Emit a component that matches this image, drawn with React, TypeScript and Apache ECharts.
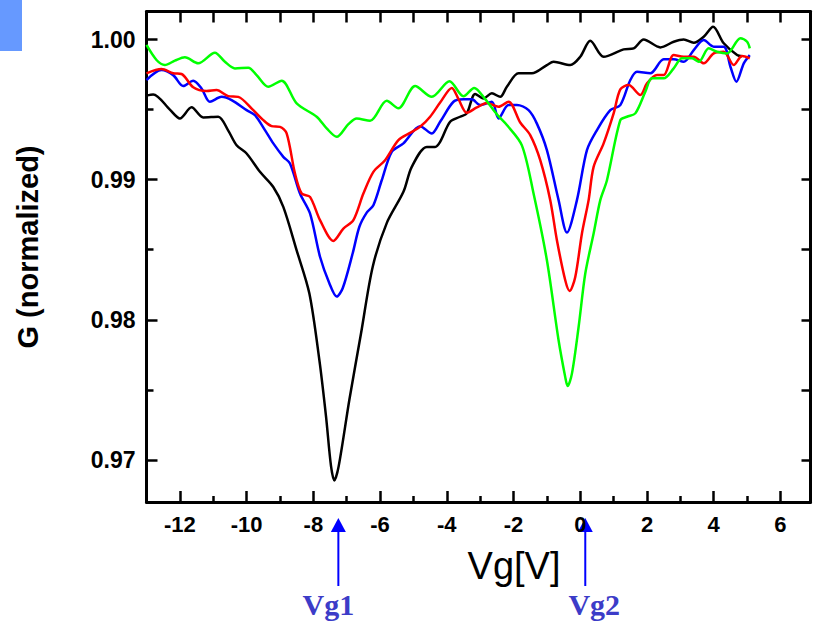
import React, { useEffect, useRef } from "react";
import * as echarts from "echarts";

const xMin = -13;
const xMax = 6.9;
const yMin = 0.967;
const yMax = 1.002;

const xTicksMajor = [-12, -10, -8, -6, -4, -2, 0, 2, 4, 6];
const xTicksMinor = [-11, -9, -7, -5, -3, -1, 1, 3, 5];
const xTicksTop = [-12, -11, -10, -9, -8, -7, -6, -5, -4, -3, -2, -1, 0, 1, 2, 3, 4, 5, 6];
const yTicksMajor = [0.97, 0.98, 0.99, 1.0];
const yTicksMinor = [0.975, 0.985, 0.995];
const yTicksRight = [0.97, 0.975, 0.98, 0.985, 0.99, 0.995, 1.0];

const vg1Value = -7.25;
const vg2Value = 0.15;

const blackData = [
  [-13.0, 0.996], [-12.8, 0.99608], [-12.3, 0.995], [-12.0, 0.99437], [-11.65, 0.99516],
  [-11.3, 0.99444], [-10.85, 0.99449], [-10.55, 0.9935], [-10.3, 0.99246], [-10.0, 0.99187],
  [-9.6, 0.99056], [-9.2, 0.98948], [-8.9, 0.98806], [-8.5, 0.98496], [-8.12, 0.98189],
  [-7.82, 0.97714], [-7.62, 0.97311], [-7.47, 0.96956], [-7.37, 0.96854], [-7.24, 0.96956],
  [-6.92, 0.9743], [-6.57, 0.97904], [-6.22, 0.98379], [-5.8, 0.9869], [-5.3, 0.98913],
  [-5.05, 0.99091], [-4.6, 0.99234], [-4.35, 0.99234], [-4.2, 0.9927], [-3.9, 0.99413],
  [-3.6, 0.99449], [-3.4, 0.99473], [-3.15, 0.99612], [-2.9, 0.9958], [-2.65, 0.99616],
  [-2.4, 0.99591], [-2.2, 0.99663], [-1.85, 0.99759], [-1.45, 0.99759], [-1.0, 0.99818],
  [-0.8, 0.99841], [-0.3, 0.99818], [0.0, 0.99877], [0.3, 0.99991], [0.7, 0.99877],
  [1.3, 0.9993], [1.6, 0.99937], [1.9, 1.0], [2.4, 0.99944], [2.8, 0.99984],
  [3.1, 1.0], [3.4, 0.99977], [3.7, 1.0002], [3.98, 1.00091], [4.3, 0.99973],
  [4.7, 0.99889], [4.85, 0.9988],
];

const blueData = [
  [-13.0, 0.99711], [-12.55, 0.99782], [-12.2, 0.99746], [-11.9, 0.99668], [-11.6, 0.99706],
  [-11.35, 0.99651], [-11.1, 0.99556], [-10.75, 0.99591], [-10.45, 0.99568], [-10.0, 0.99496],
  [-9.75, 0.99461], [-9.45, 0.99354], [-9.2, 0.99259], [-8.9, 0.99163], [-8.7, 0.99116],
  [-8.4, 0.98901], [-8.1, 0.98759], [-7.8, 0.9845], [-7.52, 0.98261], [-7.3, 0.98166],
  [-7.12, 0.98225], [-6.82, 0.98475], [-6.62, 0.98664], [-6.4, 0.98765], [-6.2, 0.98818],
  [-5.95, 0.98996], [-5.65, 0.99199], [-5.3, 0.99259], [-4.8, 0.99382], [-4.45, 0.9933],
  [-4.2, 0.99413], [-3.8, 0.99556], [-3.5, 0.99573], [-3.25, 0.99573], [-3.0, 0.99532],
  [-2.65, 0.99556], [-2.45, 0.99437], [-2.15, 0.99532], [-1.9, 0.99532], [-1.55, 0.99496],
  [-1.3, 0.994], [-1.0, 0.99211], [-0.65, 0.98854], [-0.4, 0.98623], [-0.1, 0.98854],
  [0.2, 0.99211], [0.5, 0.99354], [0.9, 0.99496], [1.2, 0.99532], [1.5, 0.99711],
  [1.7, 0.9977], [2.1, 0.99759], [2.5, 0.99859], [2.8, 0.99859], [3.1, 0.99841],
  [3.4, 0.99925], [3.7, 0.99996], [4.0, 0.99949], [4.3, 0.99949], [4.5, 0.99806],
  [4.68, 0.99699], [4.9, 0.9983], [5.08, 0.99889],
];

const redData = [
  [-13.0, 0.99759], [-12.55, 0.99789], [-12.2, 0.99759], [-11.95, 0.99754], [-11.6, 0.99659],
  [-11.2, 0.99632], [-10.9, 0.99639], [-10.55, 0.99596], [-10.25, 0.99591], [-9.8, 0.99496],
  [-9.5, 0.99425], [-9.25, 0.99382], [-9.0, 0.99377], [-8.8, 0.9933], [-8.55, 0.99044],
  [-8.35, 0.98901], [-8.1, 0.98877], [-7.8, 0.98711], [-7.4, 0.98563], [-7.1, 0.98651],
  [-6.8, 0.98711], [-6.5, 0.98901], [-6.2, 0.99056], [-5.85, 0.99139], [-5.45, 0.99282],
  [-5.1, 0.99334], [-4.8, 0.99377], [-4.5, 0.99449], [-4.2, 0.9955], [-3.85, 0.99654],
  [-3.65, 0.99575], [-3.4, 0.99478], [-3.1, 0.99515], [-2.8, 0.99547], [-2.45, 0.9952],
  [-2.15, 0.99556], [-1.8, 0.99408], [-1.5, 0.99318], [-1.2, 0.99139], [-0.9, 0.98854],
  [-0.7, 0.98568], [-0.45, 0.98282], [-0.32, 0.98206], [-0.15, 0.98306], [0.05, 0.98616],
  [0.25, 0.98854], [0.4, 0.99091], [0.7, 0.99259], [1.0, 0.99473], [1.2, 0.99644],
  [1.45, 0.99675], [1.8, 0.99604], [2.0, 0.99687], [2.3, 0.99746], [2.5, 0.99746],
  [2.8, 0.99889], [3.1, 0.99877], [3.4, 0.99877], [3.7, 0.9983], [4.0, 0.99901],
  [4.3, 0.99913], [4.6, 0.99818], [4.85, 0.99882], [5.08, 0.99866],
];

const greenData = [
  [-13.0, 0.99961], [-12.7, 0.99854], [-12.45, 0.99818], [-12.15, 0.99849], [-11.85, 0.99873],
  [-11.45, 0.9983], [-10.95, 0.99906], [-10.65, 0.99841], [-10.35, 0.99794], [-9.95, 0.99799],
  [-9.7, 0.99746], [-9.35, 0.99663], [-8.95, 0.99706], [-8.5, 0.99544], [-7.9, 0.99449],
  [-7.6, 0.99366], [-7.3, 0.99306], [-6.95, 0.99396], [-6.7, 0.99437], [-6.3, 0.9942],
  [-5.8, 0.99563], [-5.45, 0.99509], [-4.95, 0.99668], [-4.45, 0.99591], [-3.92, 0.99702],
  [-3.5, 0.99595], [-3.18, 0.99655], [-2.85, 0.99575], [-2.5, 0.99466], [-2.2, 0.9939],
  [-1.75, 0.99245], [-1.4, 0.98901], [-1.0, 0.98425], [-0.65, 0.97854], [-0.45, 0.97591],
  [-0.38, 0.97527], [-0.25, 0.97616], [-0.05, 0.97949], [0.15, 0.9833], [0.4, 0.98616],
  [0.6, 0.98854], [0.8, 0.98996], [1.2, 0.99425], [1.4, 0.99449], [1.65, 0.99473],
  [1.95, 0.99627], [2.15, 0.99723], [2.5, 0.99723], [2.8, 0.99794], [3.05, 0.99866],
  [3.35, 0.99866], [3.55, 0.99841], [3.85, 0.99937], [4.1, 0.99913], [4.4, 0.99901],
  [4.8, 1.00009], [5.0, 0.99984], [5.08, 0.99937],
];

const seriesList = [
  { name: "black", color: "#000000", data: blackData },
  { name: "blue", color: "#0000ff", data: blueData },
  { name: "red", color: "#ff0000", data: redData },
  { name: "green", color: "#00ff00", data: greenData },
];

const FONT = "'Liberation Sans', Arial, sans-serif";

export default function App() {
  const ref = useRef<HTMLDivElement>(null);

  useEffect(() => {
    if (!ref.current) return;
    const chart = echarts.init(ref.current, null, { renderer: "svg" });

    const baseX = {
      type: "value" as const,
      min: xMin,
      max: xMax,
      splitLine: { show: false },
    };
    const baseY = {
      type: "value" as const,
      min: yMin,
      max: yMax,
      splitLine: { show: false },
    };
    const lineStyle = { color: "#000", width: 3 };

    chart.setOption({
      animation: false,
      backgroundColor: "#ffffff",
      grid: {
        left: 146.5,
        top: 11.5,
        width: 664,
        height: 490.5,
        containLabel: false,
        outerBoundsMode: "none",
      },
      xAxis: [
        {
          ...baseX,
          position: "bottom",
          axisLine: { show: true, onZero: false, lineStyle },
          axisTick: {
            show: true,
            inside: true,
            length: 11,
            customValues: xTicksMajor,
            lineStyle: { color: "#000", width: 2.5 },
          },
          axisLabel: {
            show: true,
            customValues: xTicksMajor,
            margin: 11,
            color: "#000",
            fontFamily: FONT,
            fontWeight: "bold",
            fontSize: 22,
          },
        },
        {
          ...baseX,
          position: "bottom",
          axisLine: { show: false, onZero: false },
          axisTick: {
            show: true,
            inside: true,
            length: 6,
            customValues: xTicksMinor,
            lineStyle: { color: "#000", width: 2.5 },
          },
          axisLabel: { show: false },
        },
        {
          ...baseX,
          position: "top",
          axisLine: { show: true, onZero: false, lineStyle },
          axisTick: {
            show: true,
            inside: true,
            length: 11,
            customValues: xTicksTop,
            lineStyle: { color: "#000", width: 2.5 },
          },
          axisLabel: { show: false },
        },
      ],
      yAxis: [
        {
          ...baseY,
          position: "left",
          axisLine: { show: true, onZero: false, lineStyle },
          axisTick: {
            show: true,
            inside: true,
            length: 11,
            customValues: yTicksMajor,
            lineStyle: { color: "#000", width: 2.5 },
          },
          axisLabel: {
            show: true,
            customValues: yTicksMajor,
            margin: 11,
            color: "#000",
            fontFamily: FONT,
            fontWeight: "bold",
            fontSize: 23,
            formatter: (v: number) => v.toFixed(2),
          },
        },
        {
          ...baseY,
          position: "left",
          axisLine: { show: false, onZero: false },
          axisTick: {
            show: true,
            inside: true,
            length: 7,
            customValues: yTicksMinor,
            lineStyle: { color: "#000", width: 2.5 },
          },
          axisLabel: { show: false },
        },
        {
          ...baseY,
          position: "right",
          axisLine: { show: true, onZero: false, lineStyle },
          axisTick: {
            show: true,
            inside: true,
            length: 9,
            customValues: yTicksRight,
            lineStyle: { color: "#000", width: 2.5 },
          },
          axisLabel: { show: false },
        },
      ],
      series: seriesList.map((s) => ({
        name: s.name,
        type: "line",
        xAxisIndex: 0,
        yAxisIndex: 0,
        data: s.data,
        smooth: 0.3,
        symbol: "none",
        clip: true,
        lineStyle: { color: s.color, width: 2.5 },
        itemStyle: { color: s.color },
      })),
    });

    const p1 = chart.convertToPixel({ xAxisIndex: 0 }, vg1Value) as number;
    const p2 = chart.convertToPixel({ xAxisIndex: 0 }, vg2Value) as number;

    const arrow = (px: number) => [
      {
        type: "line",
        shape: { x1: px, y1: 586, x2: px, y2: 530 },
        style: { stroke: "#0000ff", lineWidth: 2 },
      },
      {
        type: "polygon",
        shape: { points: [[px, 518], [px - 7.5, 532], [px + 7.5, 532]] },
        style: { fill: "#0000ff" },
      },
    ];

    chart.setOption({
      graphic: [
        {
          type: "rect",
          shape: { x: 0, y: 0, width: 22, height: 51 },
          style: { fill: "#6699ff" },
        },
        {
          type: "text",
          x: 28,
          y: 247,
          rotation: Math.PI / 2,
          style: {
            text: "G (normalized)",
            fontFamily: FONT,
            fontWeight: "bold",
            fontSize: 29,
            fill: "#000",
            align: "center",
            verticalAlign: "middle",
          },
        },
        {
          type: "text",
          x: 514,
          y: 566,
          style: {
            text: "Vg[V]",
            fontFamily: FONT,
            fontSize: 38,
            fill: "#000",
            align: "center",
            verticalAlign: "middle",
          },
        },
        ...arrow(p1),
        ...arrow(p2),
        {
          type: "text",
          x: p1 - 10,
          y: 604,
          style: {
            text: "Vg1",
            fontFamily: "'Liberation Serif', 'Times New Roman', serif",
            fontWeight: "bold",
            fontSize: 30,
            fill: "#3c3cc8",
            align: "center",
            verticalAlign: "middle",
          },
        },
        {
          type: "text",
          x: p2 + 9,
          y: 604,
          style: {
            text: "Vg2",
            fontFamily: "'Liberation Serif', 'Times New Roman', serif",
            fontWeight: "bold",
            fontSize: 30,
            fill: "#3c3cc8",
            align: "center",
            verticalAlign: "middle",
          },
        },
      ],
    });

    return () => chart.dispose();
  }, []);

  return (
    <div
      ref={ref}
      style={{ position: "fixed", left: 0, top: 0, width: 814, height: 621, background: "#fff" }}
    />
  );
}
